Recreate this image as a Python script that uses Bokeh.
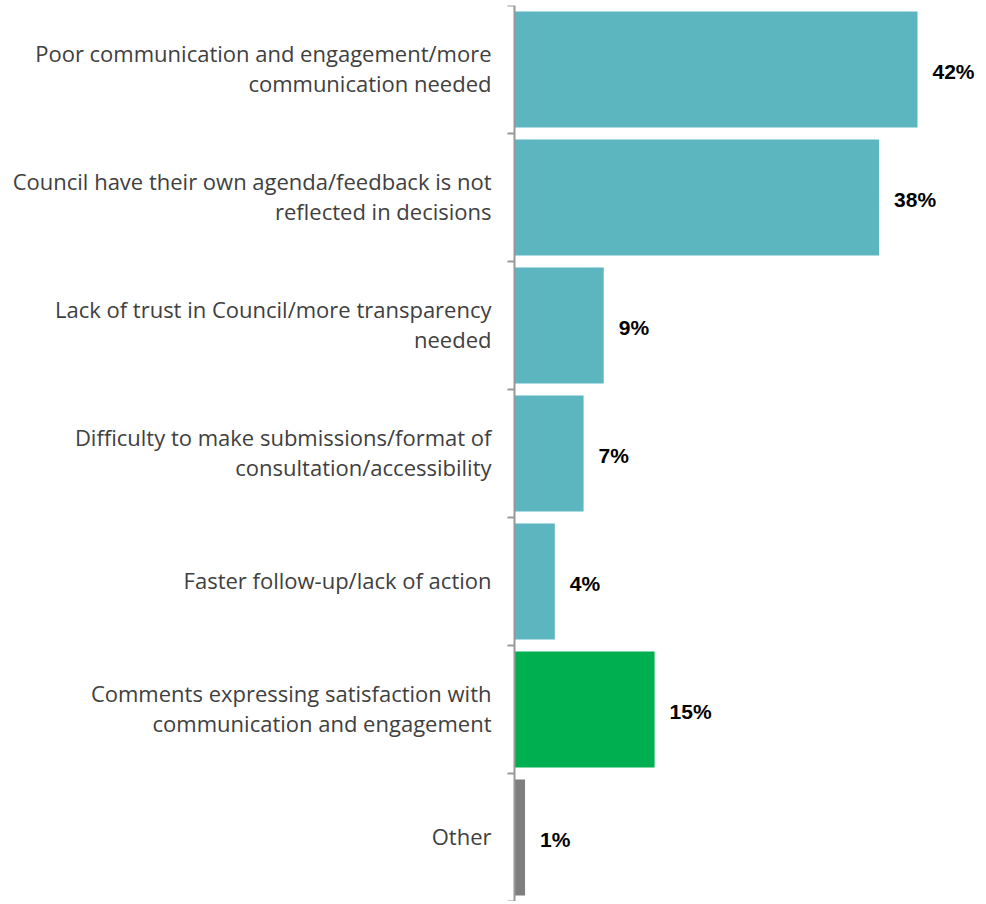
from bokeh.plotting import figure
from bokeh.models import Range1d, ColumnDataSource
from bokeh.core.properties import value
from bokeh.embed import file_html
from bokeh.resources import INLINE

# ---- data (top to bottom) ----
categories = [
    "Poor communication and engagement/more\ncommunication needed",
    "Council have their own agenda/feedback is not\nreflected in decisions",
    "Lack of trust in Council/more transparency\nneeded",
    "Difficulty to make submissions/format of\nconsultation/accessibility",
    "Faster follow-up/lack of action",
    "Comments expressing satisfaction with\ncommunication and engagement",
    "Other",
]
values = [42.0, 38.0, 9.3, 7.2, 4.2, 14.6, 1.1]
value_labels = ["42%", "38%", "9%", "7%", "4%", "15%", "1%"]

# ---- styles ----
bar_colors = ["#5BB6C0"] * 5 + ["#00B050", "#7F7F7F"]

W, FRAME_H, TOP = 978, 896, 5
zero_px = 514          # pixel position of 0 inside the frame
px_per_unit = 9.595
n = len(categories)

x_start = -zero_px / px_per_unit
x_end = (W - zero_px) / px_per_unit

ys = [n - 0.5 - i for i in range(n)]

src = ColumnDataSource(dict(
    y=ys, v=values, cat=categories, lab=value_labels, color=bar_colors,
    zero=[0] * n,
))

p = figure(width=W, height=FRAME_H + TOP, output_backend="svg", toolbar_location=None,
           x_range=Range1d(x_start, x_end), y_range=Range1d(0, n),
           min_border=0, min_border_top=TOP)
p.outline_line_color = None
p.xaxis.visible = False
p.yaxis.visible = False
p.xgrid.visible = False
p.ygrid.visible = False
p.background_fill_color = "white"
p.border_fill_color = "white"

p.hbar(y="y", left=0, right="v", height=0.905, fill_color="color",
       line_color=None, source=src)

# axis line and tick marks at category boundaries
axis_color = "#989898"
tick_len = 7 / px_per_unit
p.segment(x0=[0], y0=[0], x1=[0], y1=[n], line_color=axis_color, line_width=2)
bounds = list(range(n + 1))
p.segment(x0=[-tick_len] * len(bounds), y0=bounds, x1=[0] * len(bounds), y1=bounds,
          line_color=axis_color, line_width=2)

# category labels
p.text(x="zero", y="y", text="cat", source=src, x_offset=-23, y_offset=-2,
       text_align="right", text_baseline="middle",
       text_font=value("Open Sans"), text_font_size="22px",
       text_color="#404040", text_line_height=1.0)

# value labels
p.text(x="v", y="y", text="lab", source=src, x_offset=15, y_offset=2,
       text_align="left", text_baseline="middle",
       text_font=value("Liberation Sans"), text_font_size="21px",
       text_font_style="bold", text_color="#000000")

open("out.html", "w").write(file_html(p, INLINE))
